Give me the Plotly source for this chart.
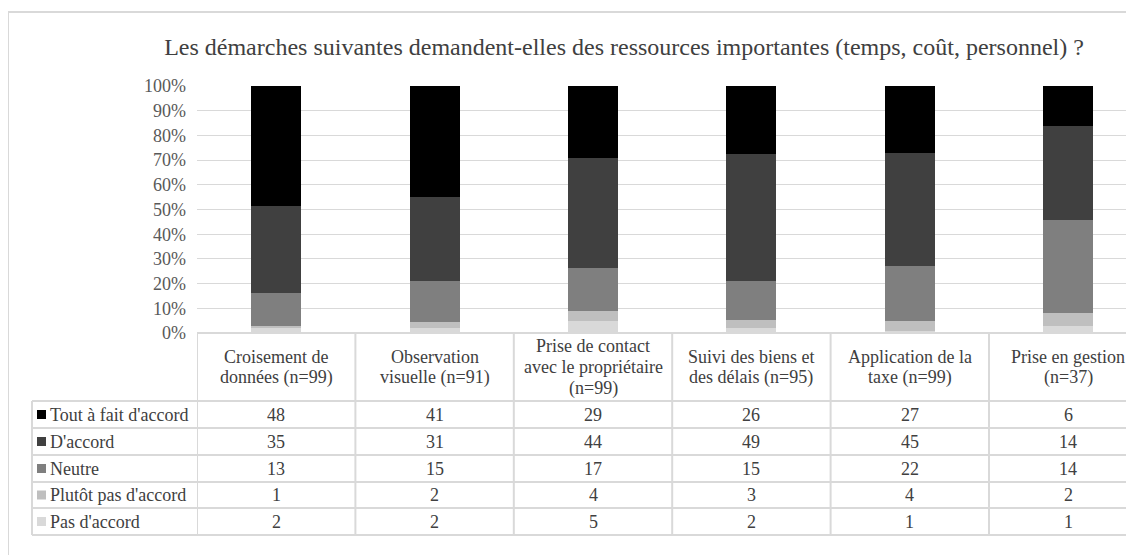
import plotly.graph_objects as go

categories = [
    "Croisement de<br>données (n=99)",
    "Observation<br>visuelle (n=91)",
    "Prise de contact<br>avec le propriétaire<br>(n=99)",
    "Suivi des biens et<br>des délais (n=95)",
    "Application de la<br>taxe (n=99)",
    "Prise en gestion<br>(n=37)",
]
series_names = ["Tout à fait d'accord", "D'accord", "Neutre", "Plutôt pas d'accord", "Pas d'accord"]
tout_a_fait = [48, 41, 29, 26, 27, 6]
d_accord = [35, 31, 44, 49, 45, 14]
neutre = [13, 15, 17, 15, 22, 14]
plutot_pas = [1, 2, 4, 3, 4, 2]
pas_d_accord = [2, 2, 5, 2, 1, 1]
y_ticks = list(range(0, 101, 10))
y_tick_labels = [f"{v}%" for v in y_ticks]

series_values = [tout_a_fait, d_accord, neutre, plutot_pas, pas_d_accord]
colors = ["#000000", "#404040", "#7f7f7f", "#bfbfbf", "#d9d9d9"]

FONT = "Liberation Serif, Times New Roman, serif"
GRID = "#d9d9d9"
TXT = "#404040"
FS = 18

# layout geometry (pixels); page body adds an 8px offset
OFF = 8
W, H = 1134, 555
L, T = 197 - OFF, 86 - OFF
BOTTOM = 333 - OFF
B = H - BOTTOM
PW, PH = W - L, BOTTOM - T
CAT_W = 158.4
LINE_H = 21


def px_x(px):
    # screen px -> paper
    return (px - OFF - L) / PW


def px_y(py):
    return (BOTTOM - (py - OFF)) / PH


x_pos = list(range(len(categories)))

fig = go.Figure()
# stack from bottom to top
for name, vals, col in reversed(list(zip(series_names, series_values, colors))):
    fig.add_trace(go.Bar(
        x=x_pos, y=vals, name=name, width=0.316,
        marker=dict(color=col, line=dict(width=0)),
        showlegend=False,
    ))

fig.update_layout(
    width=W, height=H,
    barmode="stack", barnorm="percent",
    margin=dict(l=L, r=0, t=T, b=B),
    plot_bgcolor="white", paper_bgcolor="white",
    font=dict(family=FONT, size=FS, color=TXT),
    title=dict(
        text="Les démarches suivantes demandent-elles des ressources importantes (temps, coût, personnel) ?",
        xref="container", yref="container", x=(624 - OFF) / W, y=1 - (47 - OFF) / H,
        xanchor="center", yanchor="middle",
        font=dict(family=FONT, size=24, color=TXT),
    ),
    xaxis=dict(range=[-0.5, -0.5 + PW / CAT_W], showticklabels=False,
               showgrid=False, zeroline=False, fixedrange=True),
    yaxis=dict(range=[0, 100], tickvals=y_ticks, ticktext=y_tick_labels,
               gridcolor=GRID, gridwidth=1, zeroline=False,
               tickfont=dict(family=FONT, size=FS, color="#595959"),
               ticklabelstandoff=10),
)

shapes = []
# outer chart frame (top and left edges visible)
shapes.append(dict(type="line", xref="paper", yref="paper", x0=px_x(8), x1=px_x(W + 20),
                   y0=px_y(12), y1=px_y(12), line=dict(color=GRID, width=2)))
shapes.append(dict(type="line", xref="paper", yref="paper", x0=px_x(8), x1=px_x(8),
                   y0=px_y(12), y1=px_y(H + 20), line=dict(color=GRID, width=2)))

# data table
row_lines = [333, 401, 428, 455, 482, 508, 535]
shapes.append(dict(type="line", xref="paper", yref="paper", x0=0, x1=1.05,
                   y0=px_y(row_lines[0]), y1=px_y(row_lines[0]), line=dict(color=GRID, width=2)))
for ry in row_lines[1:]:
    shapes.append(dict(type="line", xref="paper", yref="paper", x0=px_x(32), x1=1.05,
                       y0=px_y(ry), y1=px_y(ry), line=dict(color=GRID, width=2)))
shapes.append(dict(type="line", xref="paper", yref="paper", x0=px_x(32), x1=px_x(32),
                   y0=px_y(row_lines[1]), y1=px_y(row_lines[-1]), line=dict(color=GRID, width=2)))
for i in range(len(categories) + 1):
    shapes.append(dict(type="line", xref="x", yref="paper", x0=i - 0.5, x1=i - 0.5,
                       y0=px_y(row_lines[0]), y1=px_y(row_lines[-1]), line=dict(color=GRID, width=2)))

annotations = []
head_c = (row_lines[0] + row_lines[1]) / 2
for i, cat in enumerate(categories):
    lines = cat.split("<br>")
    y0 = head_c - (len(lines) - 1) * LINE_H / 2
    for k, ln in enumerate(lines):
        annotations.append(dict(x=i, y=px_y(y0 + k * LINE_H), xref="x", yref="paper",
                                text=ln, showarrow=False, xanchor="center", yanchor="middle",
                                font=dict(family=FONT, size=FS, color=TXT)))

for r, (name, vals, col) in enumerate(zip(series_names, series_values, colors)):
    yc = (row_lines[r + 1] + row_lines[r + 2]) / 2
    shapes.append(dict(type="rect", xref="paper", yref="paper", x0=px_x(37), x1=px_x(46),
                       y0=px_y(yc + 4.5), y1=px_y(yc - 4.5), fillcolor=col, line=dict(width=0)))
    annotations.append(dict(x=px_x(48), y=px_y(yc), xref="paper", yref="paper", text=name,
                            showarrow=False, xanchor="left", yanchor="middle",
                            font=dict(family=FONT, size=FS, color=TXT)))
    for i, v in enumerate(vals):
        annotations.append(dict(x=i, y=px_y(yc), xref="x", yref="paper", text=str(v),
                                showarrow=False, xanchor="center", yanchor="middle",
                                font=dict(family=FONT, size=FS, color=TXT)))

fig.update_layout(shapes=shapes, annotations=annotations)

fig.write_html("out.html")
